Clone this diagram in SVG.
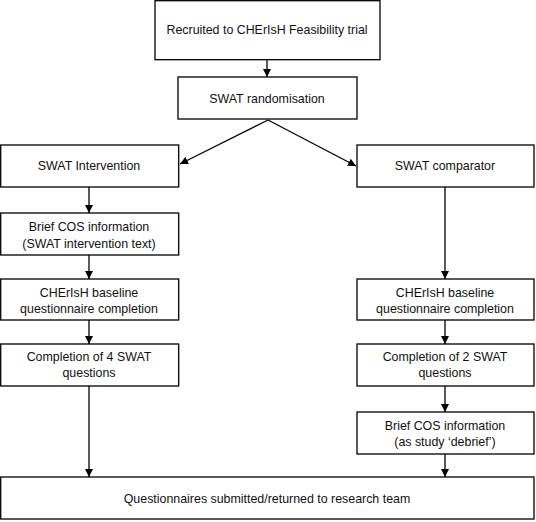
<svg xmlns="http://www.w3.org/2000/svg" width="536" height="522" viewBox="0 0 536 522">
<style>
.box{fill:#fff;stroke:#000;stroke-width:1.3}
.t{font-family:"Liberation Sans",Arial,sans-serif;font-size:12.4px;fill:#111;text-anchor:middle}
.c{stroke:#000;stroke-width:1.3;fill:none;marker-end:url(#ah)}
</style>
<defs>
<marker id="ah" viewBox="0 0 8 8" refX="8" refY="4" markerWidth="8" markerHeight="8" markerUnits="userSpaceOnUse" orient="auto">
<path d="M0,0 L8,4 L0,8 z" fill="#000"/>
</marker>
</defs>
<rect width="536" height="522" fill="#fff"/>
<g id="connectors">
<line class="c" x1="267" y1="60" x2="267" y2="77"/>
<line class="c" x1="268" y1="120" x2="180" y2="164"/>
<line class="c" x1="268" y1="120" x2="356" y2="166"/>
<line class="c" x1="89" y1="187" x2="89" y2="213"/>
<line class="c" x1="89" y1="255" x2="89" y2="279"/>
<line class="c" x1="89" y1="320" x2="89" y2="344"/>
<line class="c" x1="89" y1="386" x2="89" y2="477"/>
<line class="c" x1="445" y1="187" x2="445" y2="279"/>
<line class="c" x1="445" y1="320" x2="445" y2="344"/>
<line class="c" x1="445" y1="386" x2="445" y2="412"/>
<line class="c" x1="445" y1="454" x2="445" y2="477"/>
</g>
<g id="n1"><rect class="box" x="155" y="0.7" width="225" height="59"/><text class="t" x="267" y="34">Recruited to CHErIsH Feasibility trial</text></g>
<g id="n2"><rect class="box" x="178" y="77" width="179" height="42"/><text class="t" x="267" y="103">SWAT randomisation</text></g>
<g id="n3"><rect class="box" x="0.7" y="145" width="178" height="42"/><text class="t" x="89" y="170">SWAT Intervention</text></g>
<g id="n4"><rect class="box" x="357" y="145" width="177" height="42"/><text class="t" x="445" y="170">SWAT comparator</text></g>
<g id="n5"><rect class="box" x="0.7" y="213" width="178" height="42"/><text class="t" x="89" y="231">Brief COS information</text><text class="t" x="89" y="248">(SWAT intervention text)</text></g>
<g id="n6"><rect class="box" x="0.7" y="279" width="178" height="41"/><text class="t" x="89" y="297">CHErIsH baseline</text><text class="t" x="89" y="313">questionnaire completion</text></g>
<g id="n7"><rect class="box" x="0.7" y="344" width="178" height="42"/><text class="t" x="89" y="361">Completion of 4 SWAT</text><text class="t" x="89" y="377">questions</text></g>
<g id="n8"><rect class="box" x="357" y="279" width="177" height="41"/><text class="t" x="445" y="297">CHErIsH  baseline</text><text class="t" x="445" y="313">questionnaire completion</text></g>
<g id="n9"><rect class="box" x="357" y="344" width="177" height="42"/><text class="t" x="445" y="361">Completion of 2 SWAT</text><text class="t" x="445" y="377">questions</text></g>
<g id="n10"><rect class="box" x="357" y="412" width="177" height="42"/><text class="t" x="445" y="430">Brief COS information</text><text class="t" x="445" y="446">(as study ‘debrief’)</text></g>
<g id="n11"><rect class="box" x="0.7" y="477" width="533.3" height="42"/><text class="t" x="267" y="503">Questionnaires submitted/returned to research team</text></g>
</svg>
